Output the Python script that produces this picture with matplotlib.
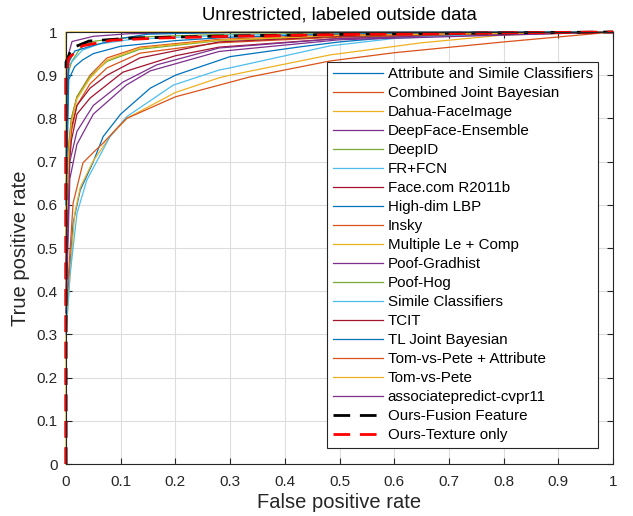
import matplotlib
matplotlib.use("Agg")
import matplotlib.pyplot as plt

plt.rcParams['font.family'] = ['Liberation Sans', 'DejaVu Sans']

title = "Unrestricted, labeled outside data"
xlabel = "False positive rate"
ylabel = "True positive rate"

labels = [
    "Attribute and Simile Classifiers", "Combined Joint Bayesian", "Dahua-FaceImage",
    "DeepFace-Ensemble", "DeepID", "FR+FCN", "Face.com R2011b", "High-dim LBP", "Insky",
    "Multiple Le + Comp", "Poof-Gradhist", "Poof-Hog", "Simile Classifiers", "TCIT",
    "TL Joint Bayesian", "Tom-vs-Pete + Attribute", "Tom-vs-Pete",
    "associatepredict-cvpr11", "Ours-Fusion Feature", "Ours-Texture only",
]

# ROC points (fpr, tpr)
attr_simile_fpr = [0, 0.007, 0.013, 0.026, 0.049, 0.068, 0.10, 0.154, 0.20, 0.30, 0.43, 0.50, 0.60, 0.80, 1.0]
attr_simile_tpr = [0.35, 0.45, 0.558, 0.634, 0.697, 0.758, 0.81, 0.87, 0.90, 0.943, 0.966, 0.977, 0.988, 0.997, 1.0]
combined_jb_fpr = [0, 0.005, 0.01, 0.02, 0.044, 0.075, 0.135, 0.28, 0.50, 1.0]
combined_jb_tpr = [0.45, 0.70, 0.77, 0.83, 0.88, 0.917, 0.951, 0.975, 0.988, 1.0]
dahua_fpr = [0, 0, 0.01, 1.0]
dahua_tpr = [0, 0.999, 1.0, 1.0]
deepface_fpr = [0, 0.005, 0.011, 0.05, 0.115, 0.30, 1.0]
deepface_tpr = [0.80, 0.95, 0.978, 0.99, 0.996, 0.999, 1.0]
deepid_fpr = [0, 0.005, 0.011, 0.03, 0.053, 0.12, 0.30, 1.0]
deepid_tpr = [0.80, 0.91, 0.933, 0.97, 0.979, 0.988, 0.995, 1.0]
frfcn_fpr = [0, 0.005, 0.03, 0.06, 0.12, 0.30, 1.0]
frfcn_tpr = [0.60, 0.923, 0.958, 0.972, 0.983, 0.993, 1.0]
facecom_fpr = [0, 0.005, 0.01, 0.02, 0.044, 0.104, 0.20, 0.28, 0.50, 1.0]
facecom_tpr = [0.45, 0.68, 0.75, 0.81, 0.847, 0.907, 0.945, 0.965, 0.985, 1.0]
highdim_fpr = [0, 0.005, 0.016, 0.03, 0.05, 0.10, 0.20, 0.30, 0.50, 1.0]
highdim_tpr = [0.60, 0.89, 0.92, 0.935, 0.95, 0.967, 0.98, 0.988, 0.995, 1.0]
insky_fpr = [0, 0.005, 0.01, 0.02, 0.044, 0.075, 0.135, 0.28, 0.50, 1.0]
insky_tpr = [0.50, 0.74, 0.80, 0.85, 0.90, 0.94, 0.965, 0.983, 0.993, 1.0]
multiple_fpr = [0, 0.011, 0.016, 0.026, 0.049, 0.08, 0.111, 0.20, 0.28, 0.30, 0.483, 0.65, 0.80, 1.0]
multiple_tpr = [0.30, 0.502, 0.58, 0.64, 0.70, 0.757, 0.80, 0.86, 0.894, 0.90, 0.947, 0.975, 0.993, 1.0]
gradhist_fpr = [0, 0.007, 0.02, 0.05, 0.104, 0.166, 0.28, 0.50, 1.0]
gradhist_tpr = [0.40, 0.70, 0.77, 0.83, 0.884, 0.924, 0.963, 0.985, 1.0]
poofhog_fpr = [0, 0.005, 0.01, 0.02, 0.044, 0.075, 0.135, 0.28, 0.50, 1.0]
poofhog_tpr = [0.50, 0.73, 0.80, 0.85, 0.897, 0.932, 0.96, 0.98, 0.99, 1.0]
simile_fpr = [0, 0.007, 0.02, 0.038, 0.08, 0.111, 0.196, 0.28, 0.30, 0.483, 0.60, 0.80, 1.0]
simile_tpr = [0.30, 0.433, 0.58, 0.657, 0.757, 0.804, 0.877, 0.912, 0.917, 0.968, 0.985, 0.997, 1.0]
tcit_fpr = [0, 0.005, 0.01, 0.02, 0.044, 0.075, 0.135, 0.28, 0.50, 1.0]
tcit_tpr = [0.45, 0.72, 0.78, 0.83, 0.87, 0.90, 0.94, 0.977, 0.99, 1.0]
tljb_fpr = [0, 0.005, 0.016, 0.053, 0.10, 0.15, 0.30, 1.0]
tljb_tpr = [0.70, 0.93, 0.956, 0.97, 0.985, 0.995, 0.999, 1.0]
tvp_attr_fpr = [0, 0.013, 0.031, 0.049, 0.068, 0.09, 0.111, 0.20, 0.28, 0.336, 0.483, 0.60, 0.80, 1.0]
tvp_attr_tpr = [0.35, 0.604, 0.697, 0.72, 0.743, 0.773, 0.80, 0.85, 0.877, 0.896, 0.933, 0.952, 0.977, 1.0]
tvp_fpr = [0, 0.005, 0.01, 0.02, 0.044, 0.075, 0.135, 0.28, 0.50, 1.0]
tvp_tpr = [0.50, 0.72, 0.79, 0.845, 0.893, 0.935, 0.963, 0.981, 0.992, 1.0]
assoc_fpr = [0, 0.007, 0.02, 0.05, 0.11, 0.154, 0.28, 0.50, 1.0]
assoc_tpr = [0.35, 0.66, 0.74, 0.81, 0.877, 0.91, 0.955, 0.982, 1.0]
fusion_fpr = [0, 0, 0.008, 0.011, 0.042, 0.12, 0.30, 0.60, 1.0]
fusion_tpr = [0, 0.93, 0.955, 0.963, 0.979, 0.986, 0.991, 0.996, 1.0]
texture_fpr = [0, 0, 0.005, 0.03, 0.084, 0.17, 0.30, 0.50, 0.80, 1.0]
texture_tpr = [0, 0.90, 0.94, 0.968, 0.981, 0.986, 0.99, 0.994, 0.998, 1.0]

series_fpr = [attr_simile_fpr, combined_jb_fpr, dahua_fpr, deepface_fpr, deepid_fpr, frfcn_fpr,
              facecom_fpr, highdim_fpr, insky_fpr, multiple_fpr, gradhist_fpr, poofhog_fpr,
              simile_fpr, tcit_fpr, tljb_fpr, tvp_attr_fpr, tvp_fpr, assoc_fpr, fusion_fpr, texture_fpr]
series_tpr = [attr_simile_tpr, combined_jb_tpr, dahua_tpr, deepface_tpr, deepid_tpr, frfcn_tpr,
              facecom_tpr, highdim_tpr, insky_tpr, multiple_tpr, gradhist_tpr, poofhog_tpr,
              simile_tpr, tcit_tpr, tljb_tpr, tvp_attr_tpr, tvp_tpr, assoc_tpr, fusion_tpr, texture_tpr]

matlab_colors = ['#0072BD', '#D95319', '#EDB120', '#7E2F8E', '#77AC30', '#4DBEEE', '#A2142F']

fig = plt.figure(figsize=(6.33, 5.16), dpi=100)
ax = fig.add_axes([66/633, 52/516, 547/633, 432/516])

for i, (lab, fx, ty) in enumerate(zip(labels, series_fpr, series_tpr)):
    if i == 18:
        ax.plot(fx, ty, color='black', lw=2, ls=(0, (6, 3.5)), label=lab, clip_on=False)
    elif i == 19:
        ax.plot(fx, ty, color='#FF0000', lw=2, ls=(0, (6, 3.5)), label=lab, clip_on=False)
    else:
        ax.plot(fx, ty, color=matlab_colors[i % 7], lw=0.9, label=lab, clip_on=False)

ax.set_xlim(0, 1)
ax.set_ylim(0, 1)
ticks = [0, 0.1, 0.2, 0.3, 0.4, 0.5, 0.6, 0.7, 0.8, 0.9, 1.0]
tick_labels = ['0', '0.1', '0.2', '0.3', '0.4', '0.5', '0.6', '0.7', '0.8', '0.9', '1']
ax.set_xticks(ticks)
ax.set_xticklabels(tick_labels)
ax.set_yticks(ticks)
ax.set_yticklabels(tick_labels)
ax.grid(True, color='#dddddd', lw=0.8)
ax.set_axisbelow(True)
ax.tick_params(direction='in', top=True, right=True, length=4, width=0.8,
               colors='#262626', labelsize=11, pad=6)
ax.tick_params(axis='x', pad=8)
for s in ax.spines.values():
    s.set_color('#262626')
    s.set_linewidth(0.8)

ax.set_title(title, fontsize=13.3, color='#000000', pad=9)
ax.set_xlabel(xlabel, fontsize=14.5, color='#262626', labelpad=3)
ax.set_ylabel(ylabel, fontsize=14.5, color='#262626', labelpad=5)

leg = ax.legend(loc='upper right', bbox_to_anchor=(532/547, 402/432), fontsize=10.9,
                frameon=True, fancybox=False, edgecolor='#262626', framealpha=1,
                handlelength=3.3, handletextpad=0.33, labelspacing=0.33, borderpad=0.35,
                borderaxespad=0)
leg.get_frame().set_linewidth(0.8)

fig.savefig('out.png', dpi=100)
